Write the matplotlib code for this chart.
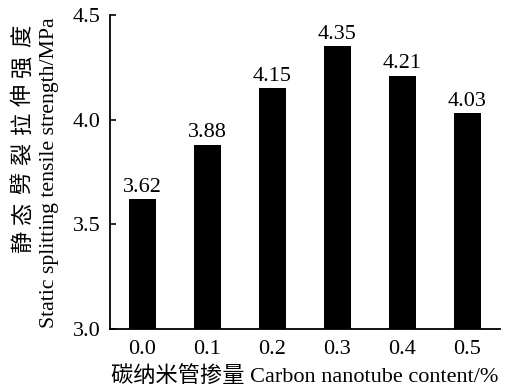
import matplotlib
matplotlib.use("Agg")
import matplotlib.pyplot as plt

categories = ["0.0", "0.1", "0.2", "0.3", "0.4", "0.5"]
values = [3.62, 3.88, 4.15, 4.35, 4.21, 4.03]
yticks = [3.0, 3.5, 4.0, 4.5]
ylabel_cn = "静态劈裂拉伸强度"
ylabel_en = "Static splitting tensile strength/MPa"
xlabel = "碳纳米管掺量 Carbon nanotube content/%"

plt.rcParams['font.family'] = ['Liberation Serif', 'Noto Sans CJK SC']

W, H = 505, 390
fig = plt.figure(figsize=(W / 100, H / 100), dpi=100)
ax = fig.add_axes([110 / W, 1 - 329 / H, 390 / W, (329 - 15) / H])
x = list(range(len(categories)))
ax.bar(x, values, width=0.43, color='black')
for xi, v in zip(x, values):
    ax.text(xi, v + 0.012, f"{v:.2f}", ha='center', va='bottom', fontsize=16)

ax.set_xlim(-0.5, 5.5)
ax.set_ylim(3.0, 4.5)
ax.set_yticks(yticks)
ax.set_yticklabels([f"{t:.1f}" for t in yticks])
ax.set_xticks(x)
ax.set_xticklabels(categories)
ax.tick_params(axis='y', direction='in', length=4, width=1.2, labelsize=16, pad=7)
ax.tick_params(axis='x', length=0, labelsize=16, pad=8)
for s in ['top', 'right']:
    ax.spines[s].set_visible(False)
for s in ['left', 'bottom']:
    ax.spines[s].set_linewidth(1.3)

# y label: Chinese line (spaced characters) and English line
top_px, bot_px, n = 36, 242, len(ylabel_cn)
step = (bot_px - top_px) / (n - 1)
for i, ch in enumerate(ylabel_cn):
    ypx = bot_px - i * step
    fig.text(24 / W, 1 - ypx / H, ch, rotation=90, ha='center', va='center',
             fontsize=16, fontweight='light')
fig.text(50 / W, 1 - 172.5 / H, ylabel_en, rotation=90, ha='center', va='center', fontsize=15.7)

fig.text(305 / W, 1 - 376 / H, xlabel, ha='center', va='center', fontsize=16, fontweight='light')

fig.savefig("out.png", dpi=100)
